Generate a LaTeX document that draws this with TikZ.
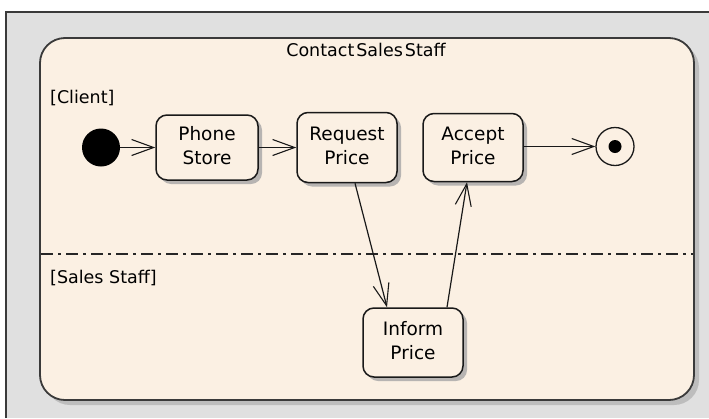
\documentclass[tikz,border=0pt]{standalone}
\usepackage{fontspec}
\setmainfont{DejaVu Sans}
\usetikzlibrary{arrows.meta,shadows,calc}
\definecolor{bgGray}{HTML}{E0E0E0}
\definecolor{frameDark}{HTML}{3A3A3A}
\definecolor{paneFill}{HTML}{FBF0E3}
\definecolor{shadowGray}{HTML}{BDBDBD}
\newcommand\actlabel[2]{\raisebox{2.5pt}{\begin{tabular}{@{}c@{}}#1\\#2\end{tabular}}}
\tikzset{
  actbox/.style={draw=black!90, line width=1.5pt, fill=paneFill, rounded corners=11pt,
    align=center, font=\fontsize{18.5}{24}\selectfont, inner sep=0pt,
    drop shadow={shadow xshift=4pt, shadow yshift=-4pt, fill=black!35, opacity=0.8}},
  flow/.style={draw=black!90, line width=1.2pt, -{Straight Barb[length=22pt,width=16pt,line width=1.1pt]}},
  lanelabel/.style={anchor=west, font=\fontsize{17.5}{20}\selectfont, inner sep=0pt},
}
\begin{document}
\begin{tikzpicture}[x=1pt,y=-1pt]
\useasboundingbox (0,0) rectangle (709,418);
% outer frame
\fill[white] (0,0) rectangle (709,418);
\fill[bgGray] (6,12) rectangle (709,418);
\draw[frameDark, line width=2pt] (6,418) -- (6,12) -- (709,12);
% container shadow and pane
\fill[shadowGray, rounded corners=25pt] (45,43) rectangle (699,405);
\draw[frameDark, line width=1.8pt, fill=paneFill, rounded corners=25pt] (40,38) rectangle (694,400);
\node[font=\fontsize{17.5}{20}\selectfont, inner sep=0pt] (title) at (366,50) {Contact\hspace{2pt}Sales\hspace{2pt}Staff};
% swimlane divider
\draw[black!85, line width=1.3pt, dash pattern=on 12pt off 5pt on 3pt off 5pt] (41,254) -- (693,254);
\node[lanelabel] (client) at (50,98) {[Client]};
\node[lanelabel] (sales) at (50,278) {[Sales Staff]};
% nodes
\node[circle, fill=black, minimum size=38pt, inner sep=0pt] (init) at (101,147.5) {};
\node[actbox, minimum width=102pt, minimum height=65pt] (phone) at (207,147.5) {\actlabel{Phone}{Store}};
\node[actbox, minimum width=100pt, minimum height=70pt] (request) at (347,147.5) {\actlabel{Request}{Price}};
\node[actbox, minimum width=100pt, minimum height=68pt] (accept) at (473,147.5) {\actlabel{Accept}{Price}};
\node[actbox, minimum width=100pt, minimum height=69pt] (inform) at (413,342.5) {\actlabel{Inform}{Price}};
\node[circle, draw=black!90, line width=1.3pt, fill=paneFill, minimum size=38pt, inner sep=0pt] (final) at (615,146.5) {};
\fill[black] (final.center) circle (6.5pt);
% connectors
\draw[flow] (init) -- (phone);
\draw[flow] (phone) -- (request);
\draw[flow] ([xshift=8pt]request.south) -- ([xshift=-26pt]inform.north);
\draw[flow] ([xshift=34pt]inform.north) -- ([xshift=-6pt]accept.south);
\draw[flow] (accept.east |- final.west) -- (final.west);
\end{tikzpicture}
\end{document}
